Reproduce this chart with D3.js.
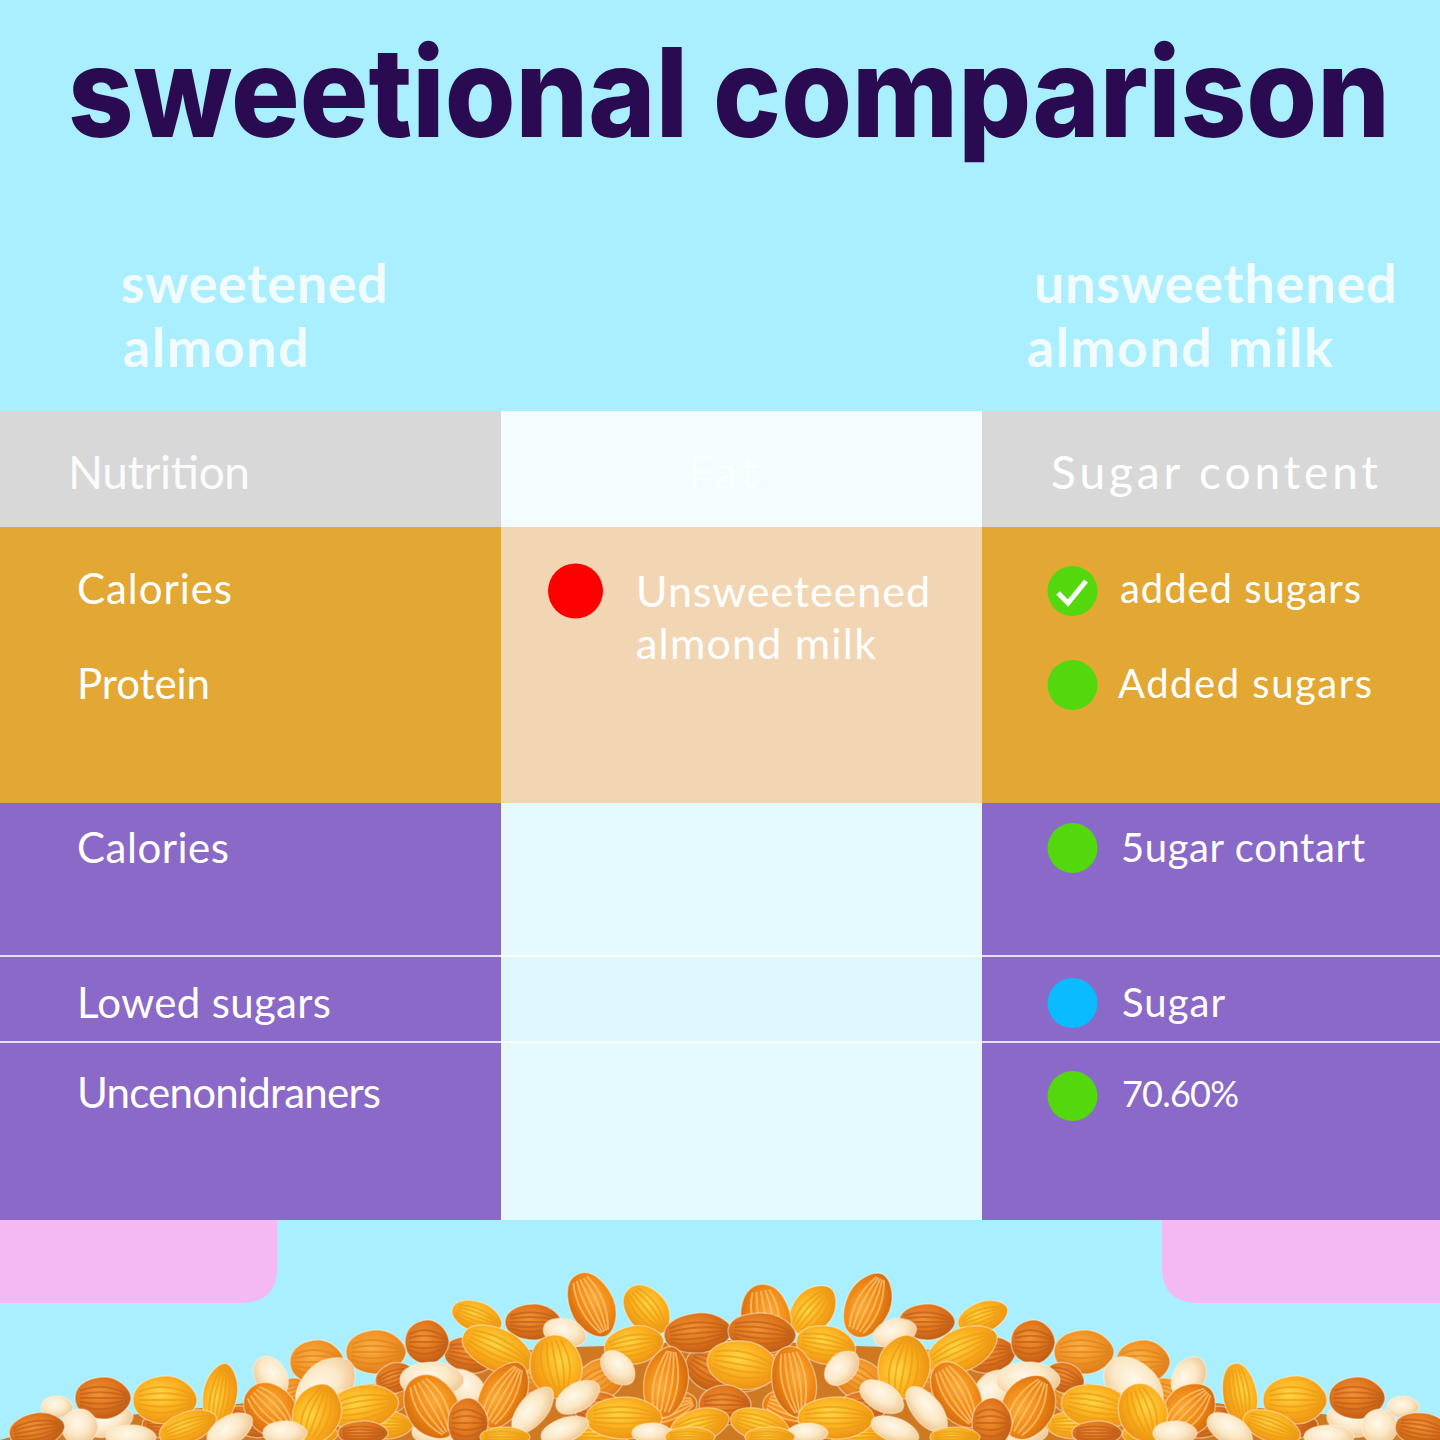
<!DOCTYPE html>
<html>
<head>
<meta charset="utf-8">
<script src="https://cdn.jsdelivr.net/npm/d3@7"></script>
<style>
  html, body { margin: 0; padding: 0; background: #a9efff; }
  svg { display: block; }
  text { font-family: Lato, sans-serif; fill: #fff; }
</style>
</head>
<body>
<script>
// table content
const titleText = 'sweetional comparison';
const leftHeading = ['sweetened', 'almond'];
const rightHeading = ['unsweethened', 'almond milk'];
const columns = ['Nutrition', 'Fat', 'Sugar content'];
const bands = ['header', 'amber', 'purpleA', 'purpleB', 'purpleC'];
const nutritionLabels = ['Calories', 'Protein', 'Calories', 'Lowed sugars', 'Uncenonidraners'];
const sugarLabels = ['added sugars', 'Added sugars', '5ugar contart', 'Sugar', '70.60%'];
const sugarFlags = ['check', 'green', 'green', 'blue', 'green'];
const fatLabels = ['Unsweeteened', 'almond milk'];

// almond pile: distance from the pile centre, height above the floor
const pileSpread = [-730, -700, -600, -500, -400, -300, -200, -100, 0, 100, 200, 300, 400, 500, 600, 700, 730];
const pileTop = [0, 8, 25, 35, 50, 65, 90, 95, 100, 95, 90, 65, 50, 35, 25, 8, 0];
const nutSpread = [138, 83, 253, 197, 303, 354, 413, 232, 165, 96, 174, 227, 64, 112, 298, 197, 152, 367, 404, 459, 510, 565, 627, 459, 673, 693, 650, 599, 542, 298, 106, 413, 500, 445, 367, 165, 225, 78, 262, 335, 40, 30, 32];
const nutHeight = [135, 130, 123, 118, 98, 88, 78, 90, 107, 95, 73, 45, 58, 72, 60, 30, 43, 33, 53, 30, 45, 40, 42, 63, 33, 10, 13, 3, 13, 33, 22, 27, 10, 7, 7, 10, 3, 7, 17, 62, 3, 15, 107];
const nutLength = [34, 28, 26, 28, 22, 30, 27, 38, 22, 30, 32, 36, 36, 20, 32, 28, 24, 36, 35, 30, 32, 32, 28, 22, 16, 28, 18, 25, 30, 34, 38, 30, 25, 22, 25, 25, 25, 20, 20, 20, 25, 30, 34];
const nutGirth = [22, 20, 15, 18, 22, 22, 22, 21, 14, 19, 26, 22, 22, 14, 18, 14, 14, 22, 24, 24, 17, 24, 21, 16, 11, 17, 18, 12, 15, 26, 21, 24, 14, 12, 12, 12, 10, 10, 25, 15, 10, 16, 20];
const nutTilt = [65, 50, 20, 0, 0, 0, 0, 25, 15, -10, 80, -60, -80, 45, 0, -50, -30, -10, -45, 45, -80, 0, 0, 60, 0, -10, 0, 0, -20, 60, 0, -70, -30, 0, 0, -20, 0, 0, 0, -20, 0, -15, -5];
const nutKind = ['amber', 'gold', 'gold', 'russet', 'russet', 'tan', 'tan', 'gold', 'cream', 'gold', 'gold', 'amber', 'amber', 'cream', 'cream', 'cream', 'cream', 'gold', 'cream', 'amber', 'gold', 'gold', 'russet', 'cream', 'cream', 'russet', 'cream', 'cream', 'gold', 'amber', 'gold', 'gold', 'cream', 'cream', 'russet', 'cream', 'gold', 'cream', 'russet', 'russet', 'gold', 'gold', 'russet'];
// nuts half hidden in the lower layer
const underSpread = [20, 130, 130, 60, 200, 260, 265, 340, 345, 440, 560, 620, 480, 130, 290, 420];
const underHeight = [70, 60, 30, 30, 65, 85, 50, 45, 15, 45, 15, 18, 18, 6, 8, 6];
const underLength = [26, 28, 26, 28, 26, 26, 24, 24, 28, 24, 28, 24, 26, 30, 28, 28];
const underGirth = [20, 20, 18, 18, 18, 18, 18, 18, 14, 16, 14, 14, 14, 14, 14, 12];
const underTilt = [30, -30, 10, -20, -10, 10, 40, -30, 0, -20, 0, -20, 20, 0, 0, 0];
const underKind = ['russet', 'tan', 'russet', 'amber', 'tan', 'russet', 'cream', 'tan', 'gold', 'tan', 'russet', 'cream', 'russet', 'gold', 'cream', 'gold'];
// the few at the very centre that have no mirror twin
const crownSpread = [36, 13, -5];
const crownHeight = [120, 75, 35];
const crownLength = [36, 36, 26];
const crownGirth = [25, 24, 20];
const crownTilt = [80, 10, 0];
const crownKind = ['amber', 'gold', 'russet'];

const W = 1440, H = 1440;
const colEdges = [0, 501, 982, 1440];
const rowEdges = [411, 527, 803, 956, 1042, 1220];

const colX = d3.scaleOrdinal(columns, colEdges.slice(0, 3));
const colW = d3.scaleOrdinal(columns, d3.pairs(colEdges).map(([a, b]) => b - a));
const rowY = d3.scaleOrdinal(bands, rowEdges.slice(0, 5));
const rowH = d3.scaleOrdinal(bands, d3.pairs(rowEdges).map(([a, b]) => b - a));
const itemY = d3.scaleOrdinal(d3.range(5), [590, 685, 849, 1004, 1094]);
const flagY = d3.scaleOrdinal(d3.range(5), [591, 685, 848, 1003, 1096]);
const sugarX = d3.scaleOrdinal(d3.range(5), [1120, 1118, 1121, 1122, 1122]);

// measured text widths so the Lato glyphs fill the same runs as the reference lettering
const nutritionFit = [155, 133, 152, 254, 304];
const sugarFit = [241, 254, 244, 103, 117];
const sugarSize = [40, 40, 40, 40, 36];

const bandFill = { header: '#d8d8d8', amber: '#e3a833', purpleA: '#8a69c9', purpleB: '#8a69c9', purpleC: '#8a69c9' };
const midFill = { header: '#f3fdff', amber: '#f2d6b4', purpleA: '#e5fafe', purpleB: '#dcf7fd', purpleC: '#e5fafe' };
const flagFill = { check: '#52d80c', green: '#52d80c', blue: '#0bbbff' };

const svg = d3.select('body').append('svg').attr('width', W).attr('height', H);
svg.append('rect').attr('width', W).attr('height', H).attr('fill', '#a9efff');

// title, stretched sideways to the wide lettering of the reference
const title = svg.append('text').text(titleText)
  .style('font-family', 'Inter, sans-serif')
  .style('font-size', '124px').style('font-weight', 800).style('fill', '#2a0a50');
const titleScale = 1322 / title.node().getComputedTextLength();
title.attr('transform', `translate(68,137) scale(${titleScale},1)`);

// column headings
const heading = (lines, xs, fits) => lines.forEach((t, i) => {
  svg.append('text').text(t).attr('x', xs[i]).attr('y', 303 + i * 64)
    .attr('textLength', fits[i])
    .style('font-size', '54px').style('font-weight', 700).style('fill', '#f2fcff');
});
heading(leftHeading, [121, 123], [267, 186]);
heading(rightHeading, [1034, 1027], [363, 306]);

// pink tabs behind the table
svg.append('path').attr('fill', '#f4b8f3').attr('d', 'M0,1220H277V1268Q277,1303 240,1303H0Z');
svg.append('path').attr('fill', '#f4b8f3').attr('d', 'M1440,1220H1162V1268Q1162,1303 1199,1303H1440Z');

// table bands
bands.forEach(b => {
  columns.forEach((c, i) => {
    svg.append('rect')
      .attr('x', colX(c)).attr('y', rowY(b))
      .attr('width', colW(c)).attr('height', rowH(b))
      .attr('fill', i === 1 ? midFill[b] : bandFill[b]);
  });
});
[956, 1042].forEach(y => {
  svg.append('rect').attr('x', 0).attr('y', y - 1).attr('width', W).attr('height', 2)
    .attr('fill', '#fff').attr('opacity', 0.8);
});

// header labels
const headerFit = [182, 69, 327];
const headerX = [68, 688, 1051];
const headerOpacity = [0.9, 0.55, 1];
svg.selectAll('.head').data(columns).join('text')
  .attr('class', 'head').text(d => d)
  .attr('x', (d, i) => headerX[i]).attr('y', 489)
  .attr('textLength', (d, i) => headerFit[i])
  .style('font-size', '46px').style('opacity', (d, i) => headerOpacity[i]);

// left column
svg.selectAll('.nutrition').data(nutritionLabels).join('text')
  .attr('class', 'nutrition').text(d => d)
  .attr('x', 77).attr('y', (d, i) => itemY(i) + 14)
  .attr('textLength', (d, i) => nutritionFit[i])
  .style('font-size', '42px');

// middle column
const fatFit = [294, 240];
svg.append('circle').attr('cx', 575.5).attr('cy', 591).attr('r', 27.5).attr('fill', '#ff0000');
svg.selectAll('.fat').data(fatLabels).join('text')
  .attr('class', 'fat').text(d => d)
  .attr('x', 636).attr('y', (d, i) => 607 + i * 52)
  .attr('textLength', (d, i) => fatFit[i])
  .style('font-size', '43px');

// right column
svg.selectAll('.flag').data(sugarFlags).join('circle')
  .attr('class', 'flag')
  .attr('cx', 1072.5).attr('cy', (d, i) => flagY(i)).attr('r', 25)
  .attr('fill', d => flagFill[d]);
svg.append('path').attr('d', 'M1058,593L1068,603L1086,581').attr('fill', 'none')
  .attr('stroke', '#fff').attr('stroke-width', 5);
svg.selectAll('.sugar').data(sugarLabels).join('text')
  .attr('class', 'sugar').text(d => d)
  .attr('x', (d, i) => sugarX(i)).attr('y', (d, i) => itemY(i) + 13)
  .attr('textLength', (d, i) => sugarFit[i])
  .style('font-size', (d, i) => sugarSize[i] + 'px');

// almonds
const pileX = d3.scaleLinear([-730, 710], [0, W]);
const pileY = d3.scaleLinear([0, 170], [H, H - 170]);
const defs = svg.append('defs');
const nutColors = {
  amber: ['#fbac38', '#f08a16', '#d0660c'],
  gold: ['#ffd848', '#fbb01e', '#ea8c10'],
  russet: ['#f29436', '#e0761c', '#b85814'],
  tan: ['#fbb044', '#f29426', '#da7818'],
  cream: ['#fff8ea', '#fbe8c6', '#eec088']
};
Object.entries(nutColors).forEach(([k, stops]) => {
  const g = defs.append('radialGradient').attr('id', 'nut-' + k).attr('cx', '42%').attr('cy', '38%').attr('r', '68%');
  stops.forEach((c, i) => g.append('stop').attr('offset', i / 2).attr('stop-color', c));
});
const stripeColor = { amber: '#ffc878', gold: '#ea9c16', russet: '#c0601c', tan: '#dd8420' };

const pileArea = d3.area().x(d => pileX(d[0])).y0(H).y1(d => pileY(d[1])).curve(d3.curveMonotoneX);
svg.append('path').datum(d3.zip(pileSpread, pileTop)).attr('d', pileArea).attr('fill', '#cf7a22');

const mirrored = (spread, height, length, girth, tilt, kind) => spread.flatMap((s, i) => [-1, 1].map(side => ({
  x: s * side, h: height[i], a: length[i], b: girth[i], tilt: tilt[i] * -side, kind: kind[i]
})));
const underNuts = mirrored(underSpread, underHeight, underLength, underGirth, underTilt, underKind);
const nuts = mirrored(nutSpread, nutHeight, nutLength, nutGirth, nutTilt, nutKind);
crownSpread.forEach((s, i) => nuts.push({
  x: s, h: crownHeight[i], a: crownLength[i], b: crownGirth[i], tilt: crownTilt[i], kind: crownKind[i]
}));
nuts.sort((p, q) => q.h - p.h);

const almond = 'M-1,0C-1,-.75 -.35,-1.02 .1,-1C.6,-.95 1,-.4 1,0C1,.4 .6,.95 .1,1C-.35,1.02 -1,.75 -1,0Z';
const stripeOffsets = [-0.62, -0.32, 0, 0.32, 0.62];
const nutG = svg.selectAll('.nut').data(underNuts.concat(nuts)).join('g').attr('class', 'nut')
  .attr('transform', d => `translate(${pileX(d.x)},${pileY(d.h)}) rotate(${d.tilt}) scale(${d.a},${d.b})`);
nutG.append('path').attr('d', almond)
  .attr('fill', d => `url(#nut-${d.kind})`)
  .attr('stroke', '#fff3df').attr('stroke-opacity', 0.45)
  .attr('stroke-width', 1.5).attr('vector-effect', 'non-scaling-stroke');
nutG.filter(d => d.kind !== 'cream').selectAll('.stripe').data(d => stripeOffsets.map(k => ({ k, c: stripeColor[d.kind] })))
  .join('path').attr('class', 'stripe')
  .attr('d', d => `M-.82,${d.k * 0.55}Q0,${d.k * 1.3} .86,${d.k * 0.3}`)
  .attr('fill', 'none').attr('stroke', d => d.c).attr('stroke-opacity', 0.7)
  .attr('stroke-width', 2).attr('vector-effect', 'non-scaling-stroke');
</script>
</body>
</html>
